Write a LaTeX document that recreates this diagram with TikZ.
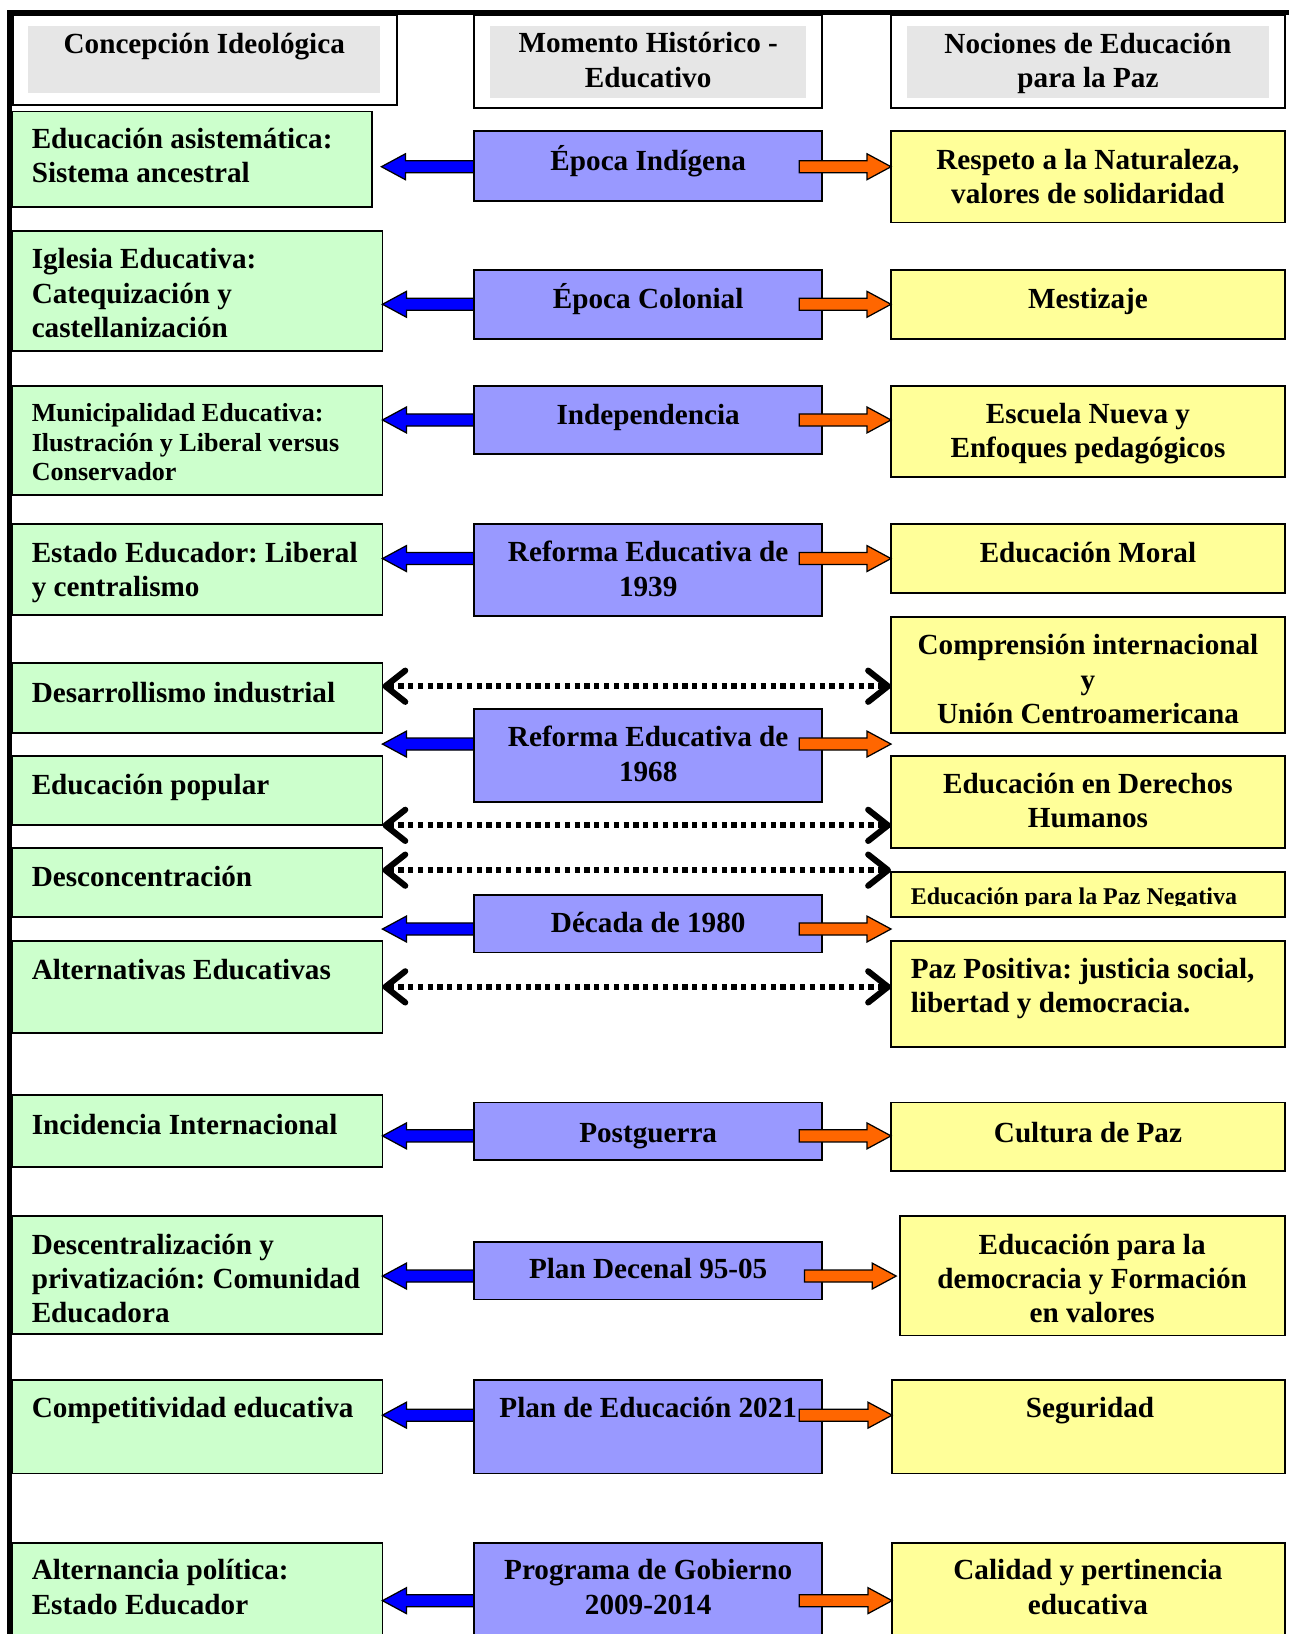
\documentclass[tikz,border=0pt]{standalone}
\usepackage{fontspec}
\setmainfont{Liberation Serif}
\usetikzlibrary{fit,calc,arrows.meta}
\frenchspacing

\definecolor{gfill}{HTML}{CCFFCC}
\definecolor{pfill}{HTML}{9999FF}
\definecolor{yfill}{HTML}{FFFF99}
\definecolor{hfill}{HTML}{E6E6E6}
\definecolor{ablue}{HTML}{0000FF}
\definecolor{aorange}{HTML}{FF6600}

% multi-line text whose baseline is the baseline of its first line
\newcommand\lines[2]{\begin{tabular}[t]{@{}#1@{}}#2\end{tabular}}

% a framed box spanning two corners
\newcommand\boxnode[4]{\node[#1, fit={(#3)(#4)}] (#2) {};}

% block arrow pointing left: tail x from #2, tip x from #3, height from #4
\newcommand\toleft[4]{%
  \path[blk=#1] let \p1=(#2), \p2=(#3), \p3=(#4) in
    (\x1,\y3+2.9pt) -- (\x2+11.5pt,\y3+2.9pt) -- (\x2+11.5pt,\y3+6.2pt) -- (\x2,\y3)
    -- (\x2+11.5pt,\y3-6.2pt) -- (\x2+11.5pt,\y3-2.9pt) -- (\x1,\y3-2.9pt) -- cycle;}

% block arrow pointing right: tail starts #5 inside #2, tip at #3, height from #4
\newcommand\toright[5]{%
  \path[blk=#1] let \p1=(#2), \p2=(#3), \p3=(#4) in
    (\x1-#5,\y3+2.9pt) -- (\x2-11.5pt,\y3+2.9pt) -- (\x2-11.5pt,\y3+6.2pt) -- (\x2,\y3)
    -- (\x2-11.5pt,\y3-6.2pt) -- (\x2-11.5pt,\y3-2.9pt) -- (\x1-#5,\y3-2.9pt) -- cycle;}

\tikzset{
  frame/.style={draw=black, line width=0.9pt, inner sep=0pt, outer sep=0pt},
  headbox/.style={frame, fill=white, line width=1pt},
  headfill/.style={fill=hfill, inner sep=0pt, outer sep=0pt},
  gbox/.style={frame, fill=gfill},
  pbox/.style={frame, fill=pfill},
  ybox/.style={frame, fill=yfill},
  txt/.style={inner sep=0pt, outer sep=0pt, font=\bfseries\fontsize{14}{16.5}\selectfont},
  txtsm/.style={inner sep=0pt, outer sep=0pt, font=\bfseries\fontsize{12.5}{14.25}\selectfont},
  txtxs/.style={inner sep=0pt, outer sep=0pt, font=\bfseries\fontsize{11.5}{13}\selectfont},
  blk/.style={draw=black, line width=0.6pt, line join=miter, fill=#1},
  dotarrow/.style={line width=2.9pt, dash pattern=on 2.5pt off 2.2pt,
    {Straight Barb[length=9.5pt,width=15pt,round]}-{Straight Barb[length=9.5pt,width=15pt,round]}},
  border/.style={line width=2.4pt, black}
}

\begin{document}
\begin{tikzpicture}[x=0.5pt,y=-0.5pt]
\path[use as bounding box] (0,0) rectangle (1237,1568);
\clip (0,0) rectangle (1237,1568);
\fill[white] (0,0) rectangle (1237,1568);

% heights of the connectors
\coordinate (a1) at (0,160);
\coordinate (a2) at (0,292);
\coordinate (a3) at (0,403);
\coordinate (a4) at (0,536);
\coordinate (a6) at (0,714);
\coordinate (a7) at (0,891.5);
\coordinate (a9) at (0,1090);
\coordinate (a10) at (0,1224.5);
\coordinate (a11) at (0,1358);
\coordinate (a12) at (0,1536);
\coordinate (d5) at (0,658.5);
\coordinate (d6) at (0,792);
\coordinate (d7) at (0,835);
\coordinate (d8) at (0,947);

% column headings
\boxnode{headbox}{h1}{12,14}{381,101}
\boxnode{headbox}{h2}{455,14}{789,104}
\boxnode{headbox}{h3}{855,14}{1233,104}
\boxnode{headfill}{h1f}{27,25}{365,89}
\boxnode{headfill}{h2f}{470,25}{773,94}
\boxnode{headfill}{h3f}{870,25}{1218,94}
\node[txt, anchor=base] (h1t) at (196,51) {Concepción Ideológica};
\node[txt, anchor=base] (h2t) at (622,50.5) {\lines{c}{Momento Histórico -\\Educativo}};
\node[txt, anchor=base] (h3t) at (1044,51) {\lines{c}{Nociones de Educación\\para la Paz}};

% left column
\boxnode{gbox}{g1}{11.5,107}{357,199}
\boxnode{gbox}{g2}{11.5,222}{367,337}
\boxnode{gbox}{g3}{11.5,370}{367,475}
\boxnode{gbox}{g4}{11.5,503}{367,590}
\boxnode{gbox}{g5}{11.5,636}{367,703}
\boxnode{gbox}{g6}{11.5,725.5}{367,792}
\boxnode{gbox}{g7}{11.5,814}{367,880}
\boxnode{gbox}{g8}{11.5,903}{367,991.5}
\boxnode{gbox}{g9}{11.5,1051}{367,1120}
\boxnode{gbox}{g10}{11.5,1166.5}{367,1280}
\boxnode{gbox}{g11}{11.5,1324.5}{367,1414}
\boxnode{gbox}{g12}{11.5,1480.5}{367,1600}
\node[txt, anchor=base west] (g1t) at (30.5,142.5) {\lines{l}{Educación asistemática:\\Sistema ancestral}};
\node[txt, anchor=base west] (g2t) at (30.5,258) {\lines{l}{Iglesia Educativa:\\Catequización y\\castellanización}};
\node[txtsm, anchor=base west] (g3t) at (30.5,404.5) {\lines{l}{Municipalidad Educativa:\\Ilustración y Liberal versus\\Conservador}};
\node[txt, anchor=base west] (g4t) at (30.5,539.5) {\lines{l}{Estado Educador: Liberal\\y centralismo}};
\node[txt, anchor=base west] (g5t) at (30.5,674) {Desarrollismo industrial};
\node[txt, anchor=base west] (g6t) at (30.5,762) {Educación popular};
\node[txt, anchor=base west] (g7t) at (30.5,851) {Desconcentración};
\node[txt, anchor=base west] (g8t) at (30.5,940) {Alternativas Educativas};
\node[txt, anchor=base west] (g9t) at (30.5,1089) {Incidencia Internacional};
\node[txt, anchor=base west] (g10t) at (30.5,1203.5) {\lines{l}{Descentralización y\\privatización: Comunidad\\Educadora}};
\node[txt, anchor=base west] (g11t) at (30.5,1360) {Competitividad educativa};
\node[txt, anchor=base west] (g12t) at (30.5,1516) {\lines{l}{Alternancia política:\\Estado Educador}};

% right column
\boxnode{ybox}{y1}{855,125.5}{1233,213.5}
\boxnode{ybox}{y2}{855,259}{1233,325}
\boxnode{ybox}{y3}{855,370}{1233,458}
\boxnode{ybox}{y4}{855,503}{1233,569}
\boxnode{ybox}{y5}{855,592}{1233,703.5}
\boxnode{ybox}{y6}{855,725.5}{1233,813.5}
\boxnode{ybox}{y7}{855,836.5}{1233,880}
\boxnode{ybox}{y8}{855,903}{1233,1004.5}
\boxnode{ybox}{y9}{855,1058}{1233,1124}
\boxnode{ybox}{y10}{864,1166.5}{1233,1281.5}
\boxnode{ybox}{y11}{856,1324.5}{1233,1414}
\boxnode{ybox}{y12}{856,1480.5}{1233,1600}
\node[txt, anchor=base] (y1t) at (1044,162.5) {\lines{c}{Respeto a la Naturaleza,\\valores de solidaridad}};
\node[txt, anchor=base] (y2t) at (1044,296) {Mestizaje};
\node[txt, anchor=base] (y3t) at (1044,406) {\lines{c}{Escuela Nueva y\\Enfoques pedagógicos}};
\node[txt, anchor=base] (y4t) at (1044,540) {Educación Moral};
\node[txt, anchor=base] (y5t) at (1044,628.5) {\lines{c}{Comprensión internacional\\y\\Unión Centroamericana}};
\node[txt, anchor=base] (y6t) at (1044,761.5) {\lines{c}{Educación en Derechos\\Humanos}};
\begin{scope}
  \clip (855,836.5) rectangle (1233,869);
  \node[txtxs, anchor=base west] (y7t) at (874,867.5) {Educación para la Paz Negativa};
\end{scope}
\node[txt, anchor=base west] (y8t) at (874,939) {\lines{l}{Paz Positiva: justicia social,\\libertad y democracia.}};
\node[txt, anchor=base] (y9t) at (1044,1096) {Cultura de Paz};
\node[txt, anchor=base] (y10t) at (1048,1203.5) {\lines{c}{Educación para la\\democracia y Formación\\en valores}};
\node[txt, anchor=base] (y11t) at (1046,1360) {Seguridad};
\node[txt, anchor=base] (y12t) at (1044,1516) {\lines{c}{Calidad y pertinencia\\educativa}};

% dotted two-way links between the outer columns
\draw[dotarrow] (g5.east |- d5) -- (y5.west |- d5);
\draw[dotarrow] (g6.east |- d6) -- (y6.west |- d6);
\draw[dotarrow] (g7.east |- d7) -- (y7.west |- d7);
\draw[dotarrow] (g8.east |- d8) -- (y8.west |- d8);

% left-pointing arrows sit under the middle boxes
\toleft{ablue}{455,0}{$(g1.east)+(9,0)$}{a1}
\toleft{ablue}{455,0}{g2.east}{a2}
\toleft{ablue}{455,0}{g3.east}{a3}
\toleft{ablue}{455,0}{g4.east}{a4}
\toleft{ablue}{455,0}{g5.east}{a6}
\toleft{ablue}{455,0}{g7.east}{a7}
\toleft{ablue}{455,0}{g9.east}{a9}
\toleft{ablue}{455,0}{g10.east}{a10}
\toleft{ablue}{455,0}{g11.east}{a11}
\toleft{ablue}{455,0}{g12.east}{a12}

% middle column
\boxnode{pbox}{p1}{455,125.5}{789,193}
\boxnode{pbox}{p2}{455,259}{789,325}
\boxnode{pbox}{p3}{455,370}{789,436}
\boxnode{pbox}{p4}{455,503}{789,591}
\boxnode{pbox}{p6}{455,680.5}{789,769.5}
\boxnode{pbox}{p7}{455,858.5}{789,914}
\boxnode{pbox}{p9}{455,1058}{789,1113}
\boxnode{pbox}{p10}{455,1191.5}{789,1247}
\boxnode{pbox}{p11}{455,1324.5}{789,1414}
\boxnode{pbox}{p12}{455,1480.5}{789,1600}
\node[txt, anchor=base] (p1t) at (622,164) {Época Indígena};
\node[txt, anchor=base] (p2t) at (622,296) {Época Colonial};
\node[txt, anchor=base] (p3t) at (622,407) {Independencia};
\node[txt, anchor=base] (p4t) at (622,539) {\lines{c}{Reforma Educativa de\\1939}};
\node[txt, anchor=base] (p6t) at (622,716.5) {\lines{c}{Reforma Educativa de\\1968}};
\node[txt, anchor=base] (p7t) at (622,894.5) {Década de 1980};
\node[txt, anchor=base] (p9t) at (622,1096) {Postguerra};
\node[txt, anchor=base] (p10t) at (622,1227) {Plan Decenal 95-05};
\node[txt, anchor=base] (p11t) at (622,1360) {Plan de Educación 2021};
\node[txt, anchor=base] (p12t) at (622,1516) {\lines{c}{Programa de Gobierno\\2009-2014}};

% right-pointing arrows start on top of the middle boxes
\toright{aorange}{p1.east}{y1.west}{a1}{11pt}
\toright{aorange}{p2.east}{y2.west}{a2}{11pt}
\toright{aorange}{p3.east}{y3.west}{a3}{11pt}
\toright{aorange}{p4.east}{y4.west}{a4}{11pt}
\toright{aorange}{p6.east}{y5.west}{a6}{11pt}
\toright{aorange}{p7.east}{y7.west}{a7}{11pt}
\toright{aorange}{p9.east}{y9.west}{a9}{11pt}
\toright{aorange}{p10.east}{$(y10.west)+(-4,0)$}{a10}{8.5pt}
\toright{aorange}{p11.east}{y11.west}{a11}{11pt}
\toright{aorange}{p12.east}{y12.west}{a12}{11pt}

% page border along the top and the left
\draw[border] (7,12) -- (1237,12);
\draw[border] (9,10) -- (9,1568);
\end{tikzpicture}
\end{document}
